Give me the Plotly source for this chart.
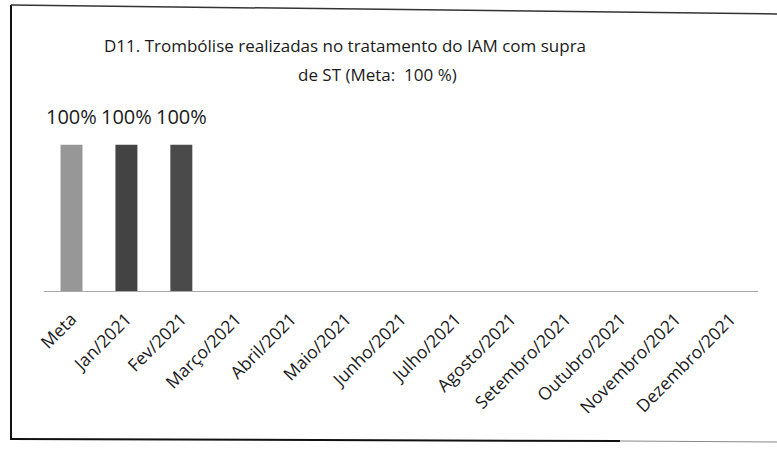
import plotly.graph_objects as go

categories = ["Meta", "Jan/2021", "Fev/2021", "Março/2021", "Abril/2021", "Maio/2021",
              "Junho/2021", "Julho/2021", "Agosto/2021", "Setembro/2021", "Outubro/2021",
              "Novembro/2021", "Dezembro/2021"]
values = [1.0, 1.0, 1.0, None, None, None, None, None, None, None, None, None, None]
labels = ["100%", "100%", "100%"] + [""] * 10
bar_colors = ["#979797", "#434343", "#4a4a4a"] + ["#4a4a4a"] * 10

W, H = 777, 450
L, R, T, B = 44, 19, 130, 159
pw, ph = W - L - R, H - T - B

def px(x):
    return (x - L) / pw

def py(y):
    return (H - B - y) / ph

fig = go.Figure()
fig.add_trace(go.Bar(
    x=categories, y=values,
    marker=dict(color=bar_colors, line=dict(width=0)),
    cliponaxis=False, showlegend=False, hoverinfo="skip",
))

value_labels = [
    dict(text=t, x=c, y=v, xref="x", yref="y", yanchor="bottom", xanchor="center",
         yshift=13, showarrow=False, font=dict(size=20, color="#1a1a1a"))
    for c, v, t in zip(categories, values, labels) if v is not None and t
]

fig.update_layout(
    width=W, height=H,
    margin=dict(l=L, r=R, t=T, b=B, autoexpand=False),
    paper_bgcolor="white", plot_bgcolor="white",
    bargap=0.6,
    font=dict(family="Open Sans", color="#1a1a1a"),
    xaxis=dict(tickangle=-45, tickfont=dict(size=17.5, color="#1a1a1a"),
               showline=True, linecolor="#a8a8a8", linewidth=1, automargin=False,
               ticklabelstandoff=10,
               showgrid=False, ticks="", zeroline=False),
    yaxis=dict(range=[0, 1.1], visible=False, showgrid=False, zeroline=False, automargin=False),
    annotations=value_labels + [
        dict(text="D11. Trombólise realizadas no tratamento do IAM com supra",
             x=px(345), y=py(45), xref="paper", yref="paper",
             xanchor="center", yanchor="middle", showarrow=False,
             font=dict(size=17, color="#1a1a1a")),
        dict(text="de ST (Meta:  100 %)",
             x=px(377), y=py(75), xref="paper", yref="paper",
             xanchor="center", yanchor="middle", showarrow=False,
             font=dict(size=17, color="#1a1a1a")),
    ],
    shapes=[
        dict(type="line", xref="paper", yref="paper", x0=px(11), x1=px(11), y0=py(5), y1=py(440),
             line=dict(color="#111111", width=2)),
        dict(type="line", xref="paper", yref="paper", x0=px(11), x1=px(777), y0=py(5), y1=py(14),
             line=dict(color="#333333", width=1.5)),
        dict(type="line", xref="paper", yref="paper", x0=px(11), x1=px(620), y0=py(439), y1=py(441),
             line=dict(color="#111111", width=2)),
        dict(type="line", xref="paper", yref="paper", x0=px(620), x1=px(777), y0=py(441), y1=py(442),
             line=dict(color="#888888", width=1)),
    ],
)

fig.write_html("out.html", config={"displayModeBar": False},
               post_script="document.body.style.margin='0';document.body.style.overflow='hidden';")
